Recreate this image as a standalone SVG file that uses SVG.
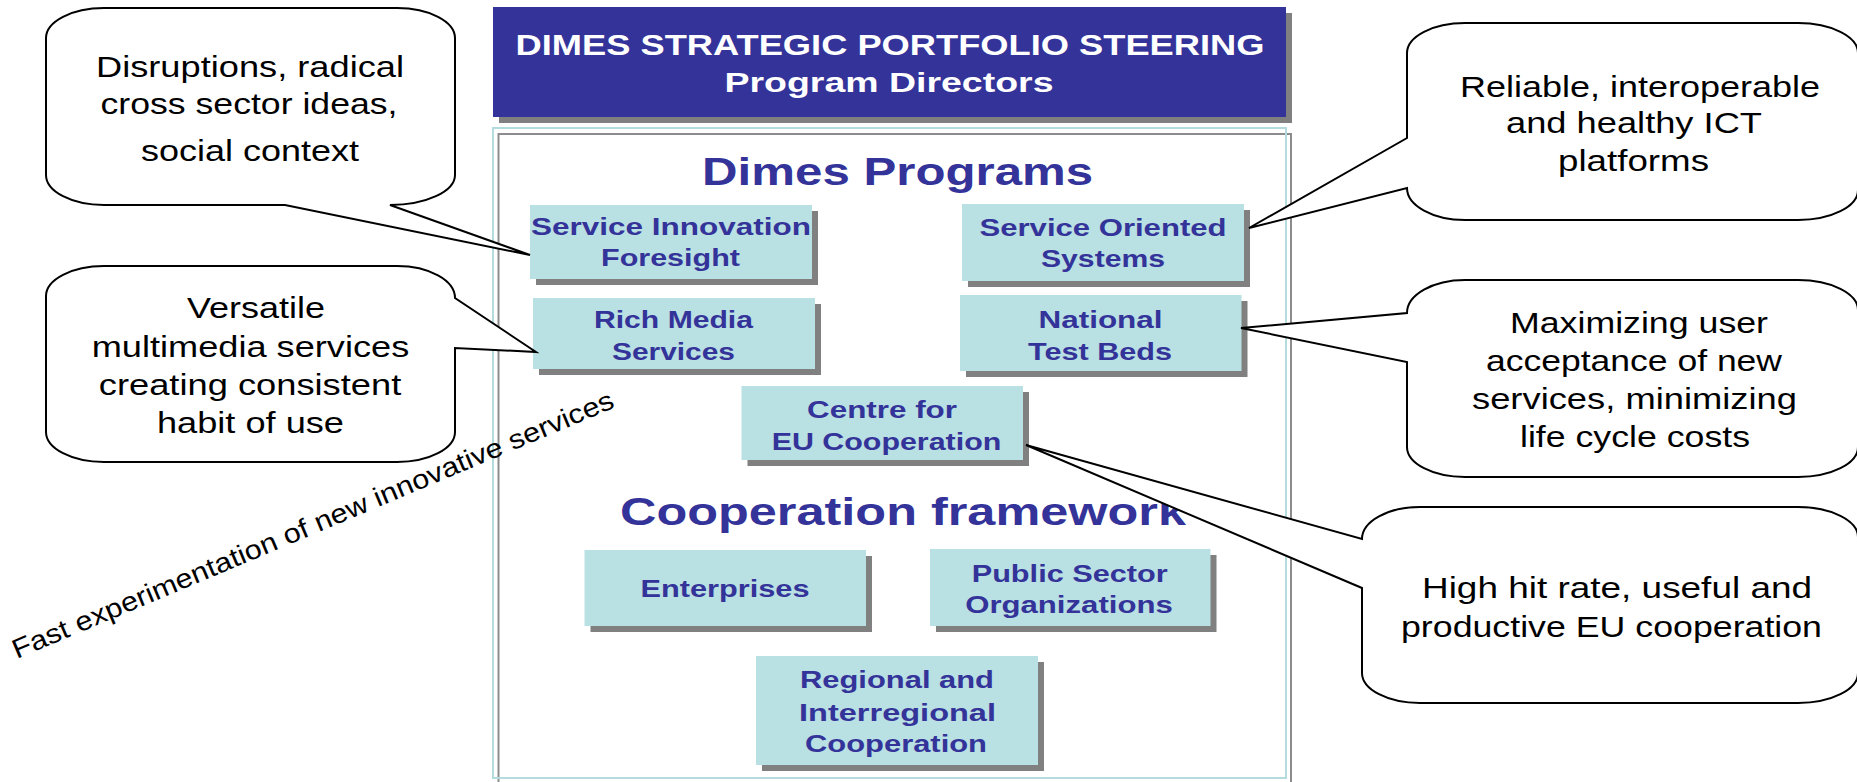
<svg xmlns="http://www.w3.org/2000/svg" width="1857" height="782" viewBox="0 0 1857 782">
<defs>
<style>
.callout{fill:#ffffff;stroke:#000000;stroke-width:2;stroke-linejoin:miter}
.ct{font-family:"Liberation Sans",Arial,sans-serif;font-size:30px;fill:#000000;text-anchor:middle}
.box{fill:#b9e0e3}
.shadow{fill:#808080}
.nt{font-family:"Liberation Sans",Arial,sans-serif;font-weight:bold;font-size:24.5px;fill:#333399;text-anchor:middle}
.hd{font-family:"Liberation Sans",Arial,sans-serif;font-weight:bold;font-size:39.5px;fill:#333399;text-anchor:middle}
.bt{font-family:"Liberation Sans",Arial,sans-serif;font-weight:bold;fill:#ffffff;text-anchor:middle}
.rot{font-family:"Liberation Sans",Arial,sans-serif;font-size:27px;fill:#000000}
</style>
</defs>
<rect width="1857" height="782" fill="#ffffff"/>

<g id="banner">
<rect class="shadow" x="499" y="13" width="793" height="110"/>
<rect x="493" y="7" width="793" height="110" fill="#333399"/>
<text class="bt" x="890" y="55" font-size="30" textLength="749" lengthAdjust="spacingAndGlyphs">DIMES STRATEGIC PORTFOLIO STEERING</text>
<text class="bt" x="889" y="91.5" font-size="27" textLength="329" lengthAdjust="spacingAndGlyphs">Program Directors</text>
</g>

<g id="frame">
<rect x="498.5" y="134" width="792.5" height="665" fill="none" stroke="#8c8c8c" stroke-width="2"/>
<rect x="493" y="128" width="793" height="650" fill="none" stroke="#b4dcdf" stroke-width="2"/>
<text class="hd" x="897.6" y="185" textLength="391" lengthAdjust="spacingAndGlyphs">Dimes Programs</text>
<text class="hd" x="903" y="525" textLength="566" lengthAdjust="spacingAndGlyphs">Cooperation framework</text>
</g>

<g id="n-service-innovation">
<rect class="shadow" x="536" y="211" width="282" height="74"/>
<rect class="box" x="530" y="205" width="282" height="74"/>
<text class="nt" x="671" y="235" textLength="280" lengthAdjust="spacingAndGlyphs">Service Innovation</text>
<text class="nt" x="670.5" y="266" textLength="139" lengthAdjust="spacingAndGlyphs">Foresight</text>
</g>

<g id="n-service-oriented">
<rect class="shadow" x="968" y="210" width="282" height="77"/>
<rect class="box" x="962" y="204" width="282" height="77"/>
<text class="nt" x="1103" y="236" textLength="247" lengthAdjust="spacingAndGlyphs">Service Oriented</text>
<text class="nt" x="1103" y="267" textLength="124" lengthAdjust="spacingAndGlyphs">Systems</text>
</g>

<g id="n-rich-media">
<rect class="shadow" x="539" y="304" width="282" height="71"/>
<rect class="box" x="533" y="298" width="282" height="71"/>
<text class="nt" x="673.5" y="328" textLength="159" lengthAdjust="spacingAndGlyphs">Rich Media</text>
<text class="nt" x="673.5" y="360" textLength="123" lengthAdjust="spacingAndGlyphs">Services</text>
</g>

<g id="n-national-test-beds">
<rect class="shadow" x="966" y="301" width="281.5" height="76"/>
<rect class="box" x="960" y="295" width="281.5" height="76"/>
<text class="nt" x="1100.5" y="328" textLength="124" lengthAdjust="spacingAndGlyphs">National</text>
<text class="nt" x="1100" y="360" textLength="144" lengthAdjust="spacingAndGlyphs">Test Beds</text>
</g>

<g id="n-centre-eu">
<rect class="shadow" x="747.5" y="392" width="281.5" height="74"/>
<rect class="box" x="741.5" y="386" width="281.5" height="74"/>
<text class="nt" x="882" y="417.5" textLength="150" lengthAdjust="spacingAndGlyphs">Centre for</text>
<text class="nt" x="886.5" y="450" textLength="229.6" lengthAdjust="spacingAndGlyphs">EU Cooperation</text>
</g>

<g id="n-enterprises">
<rect class="shadow" x="590.5" y="556" width="281.5" height="76"/>
<rect class="box" x="584.5" y="550" width="281.5" height="76"/>
<text class="nt" x="725" y="597" textLength="169" lengthAdjust="spacingAndGlyphs">Enterprises</text>
</g>

<g id="n-public-sector">
<rect class="shadow" x="936" y="555" width="280.5" height="77"/>
<rect class="box" x="930" y="549" width="280.5" height="77"/>
<text class="nt" x="1069.7" y="581.7" textLength="196" lengthAdjust="spacingAndGlyphs">Public Sector</text>
<text class="nt" x="1069" y="613.3" textLength="207.6" lengthAdjust="spacingAndGlyphs">Organizations</text>
</g>

<g id="n-regional">
<rect class="shadow" x="762" y="662" width="282" height="109"/>
<rect class="box" x="756" y="656" width="282" height="109"/>
<text class="nt" x="897" y="688.3" textLength="194" lengthAdjust="spacingAndGlyphs">Regional and</text>
<text class="nt" x="897.5" y="720.7" textLength="197" lengthAdjust="spacingAndGlyphs">Interregional</text>
<text class="nt" x="896" y="751.7" textLength="182" lengthAdjust="spacingAndGlyphs">Cooperation</text>
</g>

<g id="connectors">
<!-- callout pointers are drawn as the wedges of each callout outline -->
</g>

<g id="c-disruptions">
<path class="callout" d="M104,8 H397 A58,30 0 0 1 455,38 V175 A65,30 0 0 1 390,205 L530,255 L285,205 H104 A58,30 0 0 1 46,175 V38 A58,30 0 0 1 104,8 Z"/>
<text class="ct" x="250" y="76.7" textLength="308" lengthAdjust="spacingAndGlyphs">Disruptions, radical</text>
<text class="ct" x="249" y="114" textLength="297" lengthAdjust="spacingAndGlyphs">cross sector ideas,</text>
<text class="ct" x="250" y="160.7" textLength="218" lengthAdjust="spacingAndGlyphs">social context</text>
</g>

<g id="c-versatile">
<path class="callout" d="M104,266 H397 A58,32 0 0 1 455,298 L536,352 L455,348 V432 A58,30 0 0 1 397,462 H104 A58,30 0 0 1 46,432 V296 A58,30 0 0 1 104,266 Z"/>
<text class="ct" x="256" y="318.3" textLength="138" lengthAdjust="spacingAndGlyphs">Versatile</text>
<text class="ct" x="250.5" y="356.7" textLength="317.5" lengthAdjust="spacingAndGlyphs">multimedia services</text>
<text class="ct" x="250" y="395" textLength="302.5" lengthAdjust="spacingAndGlyphs">creating consistent</text>
<text class="ct" x="250.5" y="433.3" textLength="187" lengthAdjust="spacingAndGlyphs">habit of use</text>
</g>

<g id="c-reliable">
<path class="callout" d="M1465,23 H1798 A60,30 0 0 1 1858,53 V190 A60,30 0 0 1 1798,220 H1465 A58,32 0 0 1 1407,188 L1249,228 L1407,138 V53 A58,30 0 0 1 1465,23 Z"/>
<text class="ct" x="1640" y="96.7" textLength="360" lengthAdjust="spacingAndGlyphs">Reliable, interoperable</text>
<text class="ct" x="1634" y="133.3" textLength="256" lengthAdjust="spacingAndGlyphs">and healthy ICT</text>
<text class="ct" x="1633.5" y="171" textLength="151" lengthAdjust="spacingAndGlyphs">platforms</text>
</g>

<g id="c-maximizing">
<path class="callout" d="M1465,280 H1798 A60,30 0 0 1 1858,310 V447 A60,30 0 0 1 1798,477 H1465 A58,30 0 0 1 1407,447 V362 L1241,328 L1407,313 A58,33 0 0 1 1465,280 Z"/>
<text class="ct" x="1639" y="333.3" textLength="258" lengthAdjust="spacingAndGlyphs">Maximizing user</text>
<text class="ct" x="1634" y="371" textLength="296" lengthAdjust="spacingAndGlyphs">acceptance of new</text>
<text class="ct" x="1634.5" y="409.3" textLength="325" lengthAdjust="spacingAndGlyphs">services, minimizing</text>
<text class="ct" x="1635" y="446.7" textLength="230" lengthAdjust="spacingAndGlyphs">life cycle costs</text>
</g>

<g id="c-high-hit-rate">
<path class="callout" d="M1420,507 H1798 A60,30 0 0 1 1858,537 V673 A60,30 0 0 1 1798,703 H1420 A58,30 0 0 1 1362,673 V588 L1026,445 L1362,539 A58,32 0 0 1 1420,507 Z"/>
<text class="ct" x="1617" y="598.3" textLength="390" lengthAdjust="spacingAndGlyphs">High hit rate, useful and</text>
<text class="ct" x="1611.5" y="636.7" textLength="421" lengthAdjust="spacingAndGlyphs">productive EU cooperation</text>
</g>

<g id="fast-experimentation">
<text class="rot" x="0" y="0" transform="translate(16.7,659) rotate(-22.8)" textLength="650" lengthAdjust="spacingAndGlyphs">Fast experimentation of new innovative services</text>
</g>
</svg>
